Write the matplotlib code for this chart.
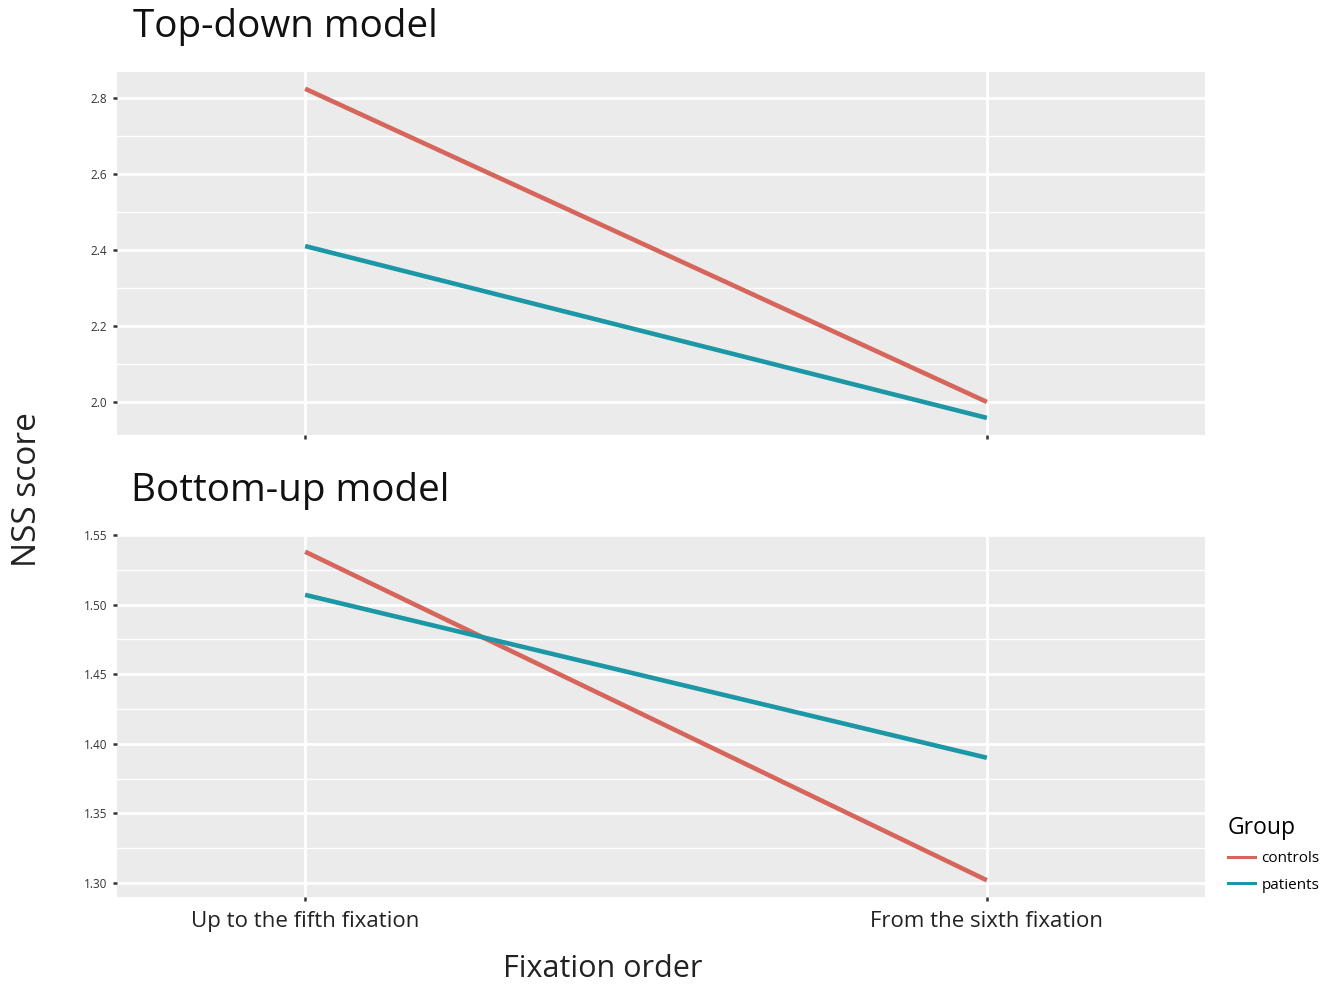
import matplotlib
matplotlib.use("Agg")
import matplotlib.pyplot as plt
from matplotlib.lines import Line2D
import numpy as np

categories = ["Up to the fifth fixation", "From the sixth fixation"]
groups = ["controls", "patients"]
top_controls = [2.824, 2.000]
top_patients = [2.410, 1.958]
bottom_controls = [1.538, 1.302]
bottom_patients = [1.507, 1.390]
top_yticks = [2.0, 2.2, 2.4, 2.6, 2.8]
bottom_yticks = [1.30, 1.35, 1.40, 1.45, 1.50, 1.55]

colors = {"controls": "#D6655B", "patients": "#1B97A6"}
FONT = ["Open Sans", "DejaVu Sans"]
plt.rcParams["font.family"] = FONT

W, H = 1333, 986
fig = plt.figure(figsize=(W / 100, H / 100), dpi=100)

def ax_rect(l, t, r, b):
    return [l / W, 1 - b / H, (r - l) / W, (b - t) / H]

ax1 = fig.add_axes(ax_rect(117, 72, 1205, 435))
ax2 = fig.add_axes(ax_rect(117, 535, 1205, 897))

x = np.arange(len(categories))

def style(ax, yticks, ylim, fmt, show_xlabels):
    ax.set_facecolor("#EBEBEB")
    for s in ax.spines.values():
        s.set_visible(False)
    ax.set_xlim(-0.276, 1.32)
    ax.set_ylim(*ylim)
    ax.set_yticks(yticks)
    ax.set_yticklabels([fmt.format(v) for v in yticks], fontsize=8.5, color="#333333")
    minors = [(a + b) / 2 for a, b in zip(yticks[:-1], yticks[1:])]
    lo = yticks[0] - (yticks[1] - yticks[0]) / 2
    if lo > ylim[0]:
        minors = [lo] + minors
    hi = yticks[-1] + (yticks[1] - yticks[0]) / 2
    if hi < ylim[1]:
        minors = minors + [hi]
    ax.set_yticks(minors, minor=True)
    ax.set_xticks(x)
    if show_xlabels:
        ax.set_xticklabels(categories, fontsize=16, color="#222222")
    else:
        ax.set_xticklabels([])
    ax.tick_params(axis="both", which="major", length=3, width=1.8, color="#333333", pad=4)
    ax.tick_params(axis="x", which="major", pad=7)
    ax.tick_params(axis="y", which="minor", length=0)
    ax.grid(True, which="major", color="white", linewidth=2.0)
    ax.grid(True, which="minor", axis="y", color="white", linewidth=1.0)
    ax.set_axisbelow(True)

style(ax1, top_yticks, (1.913, 2.868), "{:.1f}", False)
style(ax2, bottom_yticks, (1.290, 1.547), "{:.2f}", True)

lw = 3.3
ax1.plot(x, top_controls, color=colors["controls"], lw=lw, solid_capstyle="butt")
ax1.plot(x, top_patients, color=colors["patients"], lw=lw, solid_capstyle="butt")
ax2.plot(x, bottom_controls, color=colors["controls"], lw=lw, solid_capstyle="butt")
ax2.plot(x, bottom_patients, color=colors["patients"], lw=lw, solid_capstyle="butt")

fig.text(133 / W, 1 - 27 / H, "Top-down model", fontsize=27.8, va="center", ha="left", color="#111111")
fig.text(131 / W, 1 - 491 / H, "Bottom-up model", fontsize=27.8, va="center", ha="left", color="#111111")
fig.text(27 / W, 1 - 490 / H, "NSS score", fontsize=24, rotation=90, va="center", ha="center", color="#222222")
fig.text(603 / W, 1 - 969 / H, "Fixation order", fontsize=22, va="center", ha="center", color="#222222")

handles = [Line2D([0], [0], color=colors[g], lw=2.2) for g in groups]
leg = fig.legend(handles, groups, title="Group", loc="upper left",
                 bbox_to_anchor=(1217 / W, 1 - 805 / H), frameon=False,
                 fontsize=11, title_fontsize=16.5, handlelength=1.8,
                 handletextpad=0.4, labelspacing=0.75, borderpad=0.2)
leg._legend_box.align = "left"

fig.savefig("out.png", dpi=100)
